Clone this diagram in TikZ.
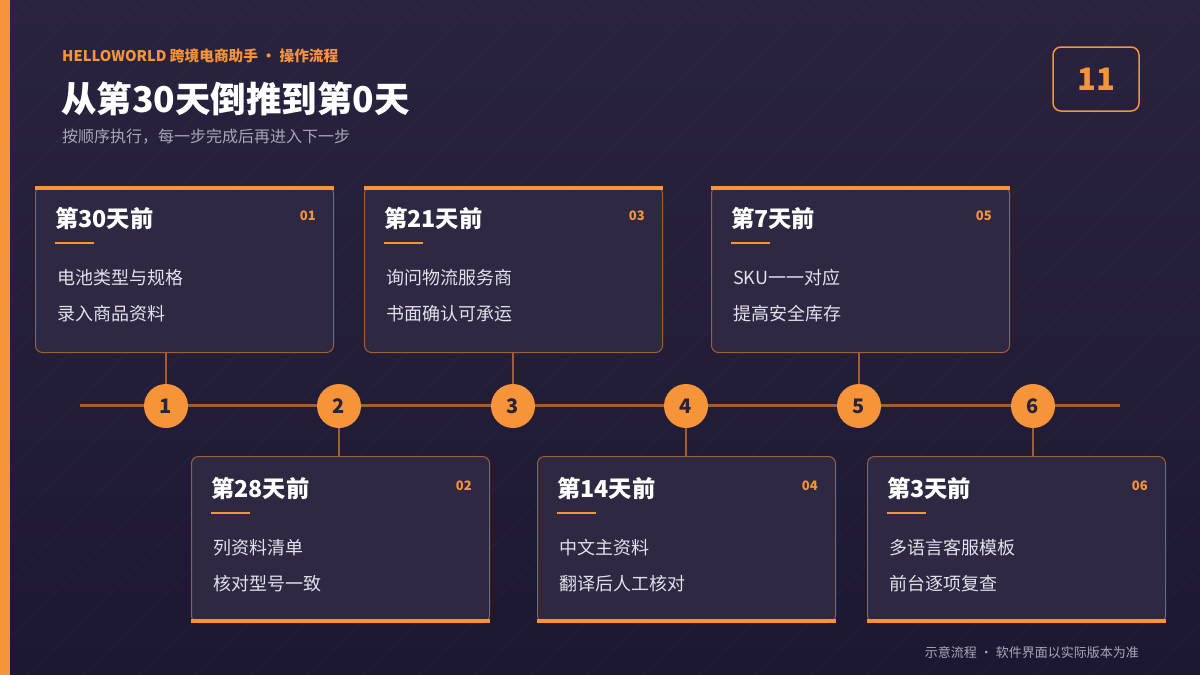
\documentclass[tikz,border=0pt]{standalone}
\usepackage{fontspec}
\setmainfont{Noto Sans CJK SC}
\usetikzlibrary{positioning}

\definecolor{fondHaut}{HTML}{29233F}
\definecolor{fondBas}{HTML}{1D1832}
\definecolor{accent}{HTML}{F7943A}
\definecolor{trait}{HTML}{9E5E36}
\definecolor{carteFond}{HTML}{2E2843}
\definecolor{encre}{HTML}{2A2236}
\definecolor{texteGris}{HTML}{E2E0EA}
\definecolor{sousTitre}{HTML}{A9A6B8}

\begin{document}
\begin{tikzpicture}[x=1pt, y=-1pt,
    carte/.style={draw=trait, line width=1pt, fill=carteFond, rounded corners=7pt,
      minimum width=298pt, minimum height=166pt, inner sep=0pt, anchor=north west},
    rond/.style={circle, fill=accent, minimum size=44pt, inner sep=0pt,
      font=\fontsize{20}{24}\selectfont\bfseries, text=encre},
    titre/.style={anchor=west, inner sep=0pt, text=white, font=\fontsize{23.3}{26}\selectfont\bfseries},
    numero/.style={anchor=east, inner sep=0pt, text=accent, font=\fontsize{13}{15}\selectfont\bfseries},
    ligne/.style={anchor=west, inner sep=0pt, text=texteGris, font=\fontsize{18}{21}\selectfont}]
        % Fond et hachures
        \shade[top color=fondHaut, bottom color=fondBas] (0,0) rectangle (1200,675);
        \useasboundingbox (0,0) rectangle (1200,675);
        \begin{scope}
            \clip (0,0) rectangle (1200,675);
            \foreach \d in {0,56,...,1960}
                \draw[white, opacity=0.035, line width=1pt] ({\d-700},675) -- (\d,-25);
        \end{scope}
        \fill[accent] (0,0) rectangle (10,675);

        % En-tete
        \node[anchor=west, inner sep=0pt, text=accent, font=\fontsize{14.7}{17}\selectfont\bfseries]
            (marque) at (62,56) {HELLOWORLD 跨境电商助手 · 操作流程};
        \node[anchor=west, inner sep=0pt, text=white, font=\fontsize{35.5}{40}\selectfont\bfseries]
            (titrePage) at (61,99) {从第30天倒推到第0天};
        \node[anchor=west, inner sep=0pt, text=sousTitre, font=\fontsize{16}{19}\selectfont]
            (sousTitre) at (62,137) {按顺序执行，每一步完成后再进入下一步};
        \node[draw=accent, line width=1.5pt, rounded corners=8pt, minimum width=86pt, minimum height=64pt,
            text=accent, font=\fontsize{31}{36}\selectfont\bfseries] (page) at (1096,79) {11};

        % Cartes du haut
        \foreach \i/\kx in {1/35, 3/364, 5/711}{
            \node[carte] (k\i) at (\kx,186) {};
            \fill[accent] (k\i.north west) rectangle ([yshift=-4pt]k\i.north east);
        }
        % Cartes du bas
        \foreach \i/\kx in {2/191, 4/537, 6/867}{
            \node[carte] (k\i) at (\kx,456) {};
            \fill[accent] ([yshift=4pt]k\i.south west) rectangle (k\i.south east);
        }
        % Textes des cartes
        \foreach \i/\titreC/\a/\b in {1/第30天前/电池类型与规格/录入商品资料,
                2/第28天前/列资料清单/核对型号一致,
                3/第21天前/询问物流服务商/书面确认可承运,
                4/第14天前/中文主资料/翻译后人工核对,
                5/第7天前/SKU一一对应/提高安全库存,
                6/第3天前/多语言客服模板/前台逐项复查}{
            \node[titre] (t\i) at ([shift={(20,33)}]k\i.north west) {\titreC};
            \node[numero] (n\i) at ([shift={(-18,30)}]k\i.north east) {0\i};
            \draw[accent, line width=2pt] ([shift={(20,57)}]k\i.north west) -- ([shift={(59,57)}]k\i.north west);
            \node[ligne] (a\i) at ([shift={(22,92)}]k\i.north west) {\a};
            \node[ligne] (b\i) at ([shift={(22,128)}]k\i.north west) {\b};
        }

        % Ligne du temps
        \coordinate (debut) at (80,405);
        \coordinate (fin) at (1120,405);
        \draw[trait, line width=3pt] (debut) -- (fin);
        \foreach \i/\cx in {1/166,2/339,3/513,4/686,5/859,6/1033}
            \node[rond] (c\i) at (\cx,406) {\i};
        \foreach \i in {1,3,5}
            \draw[trait, line width=2pt] (c\i.north) -- (c\i |- k\i.south);
        \foreach \i in {2,4,6}
            \draw[trait, line width=2pt] (c\i.south) -- (c\i |- k\i.north);

        % Pied de page
        \node[anchor=east, inner sep=0pt, text=sousTitre, font=\fontsize{13}{15}\selectfont]
            (note) at (1139,653) {示意流程 · 软件界面以实际版本为准};
    \end{tikzpicture}
\end{document}
